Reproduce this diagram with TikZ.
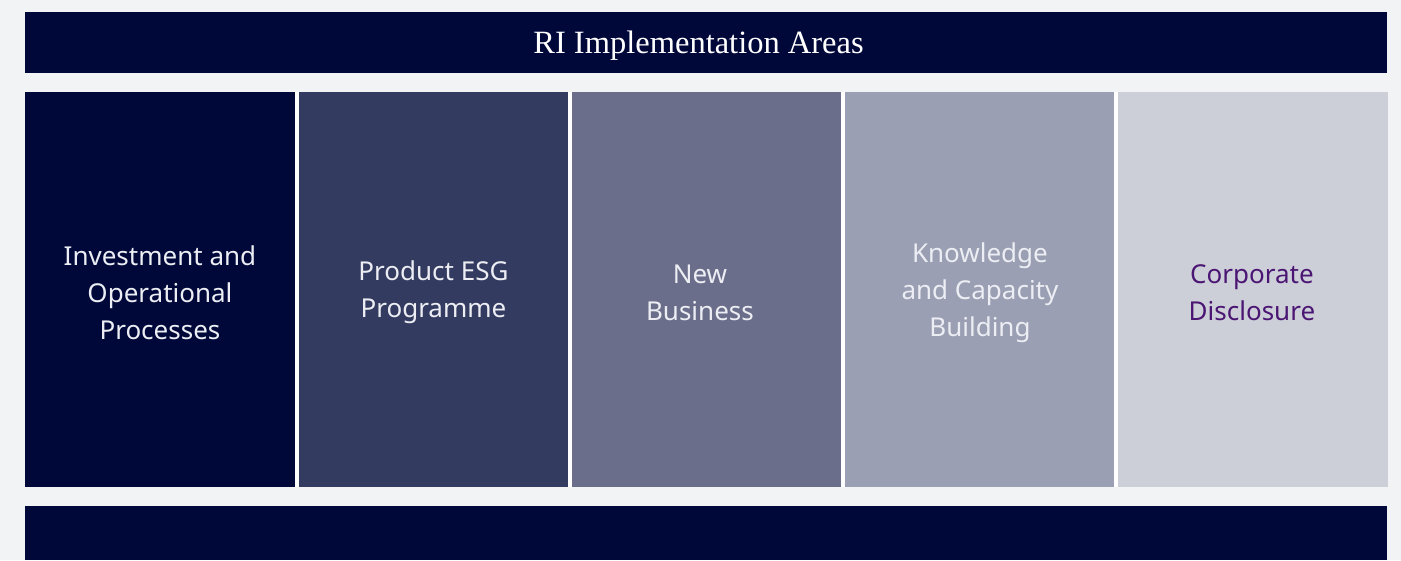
\documentclass[tikz,border=0pt]{standalone}
\usepackage{fontspec}
\setmainfont{Noto Sans}
\newfontfamily\titlefont{Liberation Serif}
\definecolor{bgc}{HTML}{F1F3F5}
\definecolor{navy}{HTML}{00083A}
\definecolor{cb}{HTML}{343B60}
\definecolor{cc}{HTML}{6B6E8A}
\definecolor{cd}{HTML}{9A9FB3}
\definecolor{ce}{HTML}{CDCFD8}
\definecolor{txt}{HTML}{ECEEF3}
\definecolor{purp}{HTML}{4B1673}
\tikzset{
  area/.style={draw=none, minimum width=269.5pt, minimum height=395pt, anchor=north west, inner sep=0pt},
  lbl/.style={align=center, font=\fontsize{26}{37}\selectfont, text=txt},
}
\begin{document}
\begin{tikzpicture}[x=1pt,y=1pt]
\fill[bgc] (0,0) rectangle (1401,560);
\useasboundingbox (0,0) rectangle (1401,560);
% title bar
\node[fill=navy, minimum width=1362pt, minimum height=61pt, inner sep=0pt, anchor=north west] (title) at (25,548) {};
\node[text=white, font=\titlefont\fontsize{32.5}{32.5}\selectfont] (titletext) at (698.5,514) {RI Implementation Areas};
% columns
\node[area, fill=navy] (c1) at (25,468) {};
\node[area, fill=cb] (c2) at (298.5,468) {};
\node[area, fill=cc] (c3) at (572,468) {};
\node[area, fill=cd] (c4) at (845,468) {};
\node[area, fill=ce] (c5) at (1118,468) {};
\fill[white] (294.5,73) rectangle (298.5,468);
\fill[white] (568,73) rectangle (572,468);
\fill[white] (841,73) rectangle (845,468);
\fill[white] (1114,73) rectangle (1118,468);
\node[lbl] (t1) at ([yshift=-3pt]c1.center) {Investment and\\Operational\\Processes};
\node[lbl] (t2) at ([yshift=-3pt]c2.center) {Product ESG\\Programme};
\node[lbl] (t3) at ([xshift=-7pt,yshift=-3pt]c3.center) {New\\Business};
\node[lbl] (t4) at ([yshift=-3pt]c4.center) {Knowledge\\and Capacity\\Building};
\node[lbl, text=purp] (t5) at ([xshift=-1pt,yshift=-3pt]c5.center) {Corporate\\Disclosure};
% bottom bar
\node[fill=navy, minimum width=1362pt, minimum height=54pt, inner sep=0pt, anchor=north west] (bottom) at (25,54) {};
\end{tikzpicture}
\end{document}
